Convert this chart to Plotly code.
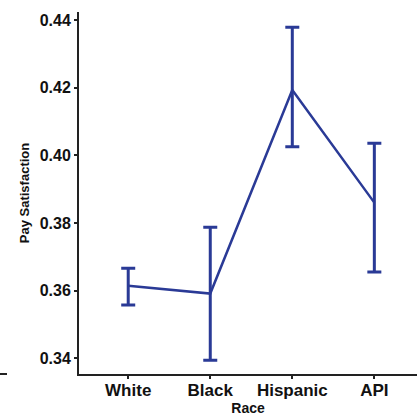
import plotly.graph_objects as go

categories = ["White", "Black", "Hispanic", "API"]
means = [0.3614, 0.3591, 0.4193, 0.3860]
upper = [0.3666, 0.3787, 0.4379, 0.4036]
lower = [0.3557, 0.3394, 0.4025, 0.3655]

err_plus = [u - m for u, m in zip(upper, means)]
err_minus = [m - l for m, l in zip(means, lower)]

color = "#2A3A96"
xs = list(range(len(categories)))

fig = go.Figure()
fig.add_trace(go.Scatter(
    x=xs, y=means, mode="lines",
    line=dict(color=color, width=2.5),
    error_y=dict(type="data", array=err_plus, arrayminus=err_minus,
                 color=color, thickness=3, width=7, symmetric=False),
    showlegend=False, hoverinfo="skip",
))

font_fam = "Liberation Sans, Arial, sans-serif"
W, H = 417, 416
ml, mr, mt, mb = 79, 0, 12, 42
pw = W - ml - mr

fig.update_layout(
    width=W, height=H,
    margin=dict(l=ml, r=mr, t=mt, b=mb),
    paper_bgcolor="white", plot_bgcolor="white",
    font=dict(family=font_fam, color="#111111"),
    xaxis=dict(
        range=[-0.6, 3.52], tickvals=xs, ticktext=categories,
        showline=True, linecolor="#222222", linewidth=2,
        ticks="outside", ticklen=3, tickwidth=1.5, tickcolor="#222222",
        showgrid=False, zeroline=False, ticklabelstandoff=-3,
        tickfont=dict(size=17, family=font_fam, weight="bold"),
        title=dict(text="Race", font=dict(size=14, family=font_fam, weight="bold"), standoff=2),
    ),
    yaxis=dict(
        range=[0.3353, 0.4424], tickvals=[0.34, 0.36, 0.38, 0.40, 0.42, 0.44],
        ticktext=["0.34", "0.36", "0.38", "0.40", "0.42", "0.44"],
        showline=True, linecolor="#222222", linewidth=2,
        ticks="outside", ticklen=3, tickwidth=1.5, tickcolor="#222222",
        showgrid=False, zeroline=False,
        tickfont=dict(size=16, family=font_fam, weight="bold"),
        title=dict(text="Pay Satisfaction", font=dict(size=13, family=font_fam, weight="bold"), standoff=7),
    ),
    shapes=[dict(type="line", xref="paper", yref="paper",
                 x0=(0 - ml) / pw, x1=(7 - ml) / pw, y0=0, y1=0,
                 line=dict(color="#222222", width=2))],
)

fig.write_html("out.html")
